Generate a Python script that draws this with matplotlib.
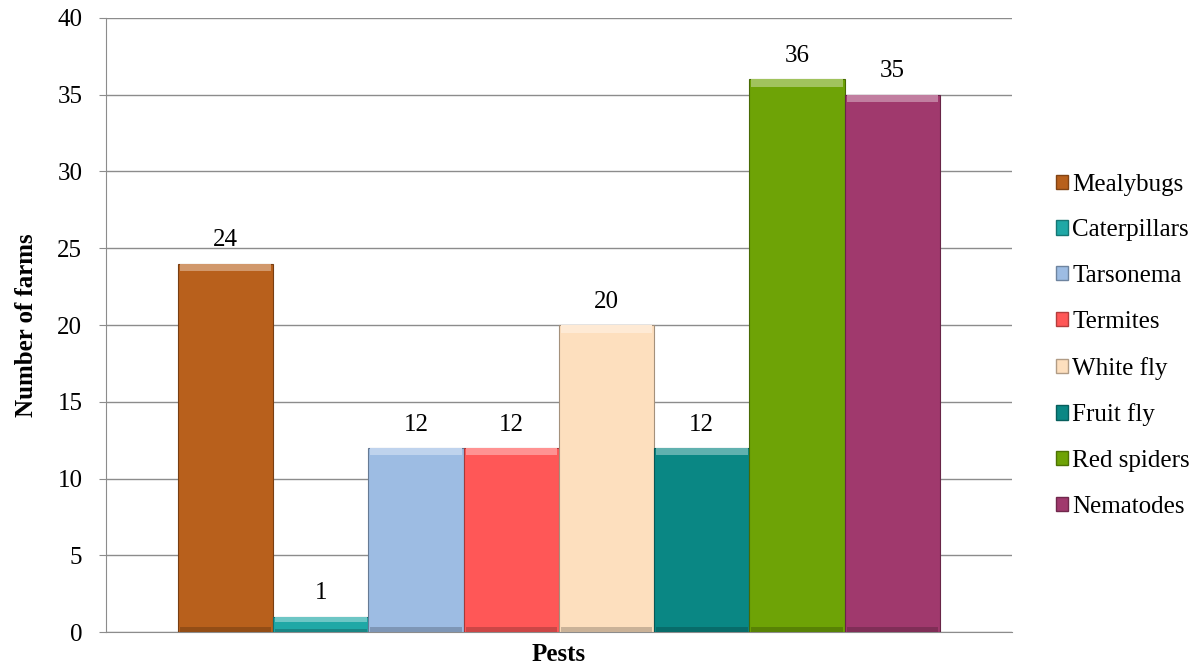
import matplotlib.pyplot as plt
from matplotlib.patches import Patch
from matplotlib.colors import to_rgb
import numpy as np

plt.rcParams["font.family"] = ["Liberation Serif", "DejaVu Serif"]

pests = ["Mealybugs", "Caterpillars", "Tarsonema", "Termites",
         "White fly", "Fruit fly", "Red spiders", "Nematodes"]
farms = [24, 1, 12, 12, 20, 12, 36, 35]
colors = ["#B8601C", "#1FA8A6", "#9DBCE3", "#FF5757",
          "#FDDFBE", "#0A8784", "#6EA306", "#A0396D"]


def shade(c, f):
    r = np.array(to_rgb(c))
    if f > 0:
        return tuple(r + (1 - r) * f)
    return tuple(r * (1 + f))


fig = plt.figure(figsize=(12.03, 6.66), dpi=100)
ax = fig.add_axes([0.0881, 0.051, 0.7531, 0.922])

n = len(farms)
group = 0.841
w = group / n
xs = -group / 2 + w / 2 + np.arange(n) * w

for x, v, c in zip(xs, farms, colors):
    ax.bar(x, v, width=w, color=c, edgecolor=shade(c, -0.35),
           linewidth=0.8, zorder=3)
    # bevel: light band on top, darker band at the base
    band = min(0.5, v * 0.35)
    ax.bar(x, band, bottom=v - band, width=w * 0.96, color=shade(c, 0.35),
           linewidth=0, zorder=4)
    ax.bar(x, band * 0.6, bottom=0, width=w * 0.96, color=shade(c, -0.2),
           linewidth=0, zorder=4)
    ax.text(x, v + 0.8, str(v), ha="center", va="bottom", fontsize=18,
            zorder=5)

ax.set_xlim(-0.5, 0.5)
ax.set_ylim(0, 40)
ax.set_yticks(range(0, 41, 5))
ax.set_xticks([])
ax.grid(axis="y", color="#8C8C8C", linewidth=1, zorder=0)
ax.set_axisbelow(True)
for s in ["top", "right"]:
    ax.spines[s].set_visible(False)
for s in ["left", "bottom"]:
    ax.spines[s].set_color("#8C8C8C")
ax.tick_params(axis="y", labelsize=18, length=5, color="#8C8C8C", pad=12)
ax.set_ylabel("Number of farms", fontsize=18, fontweight="bold", labelpad=14)
ax.set_xlabel("Pests", fontsize=18, fontweight="bold", labelpad=8)

handles = [Patch(facecolor=c, edgecolor=shade(c, -0.3)) for c in colors]
fig.legend(handles, pests, loc="center left", bbox_to_anchor=(0.859, 0.481),
           frameon=False, fontsize=18, handlelength=0.5, handleheight=0.5,
           handletextpad=0.15, labelspacing=0.95)

fig.savefig("out.png", dpi=100)
